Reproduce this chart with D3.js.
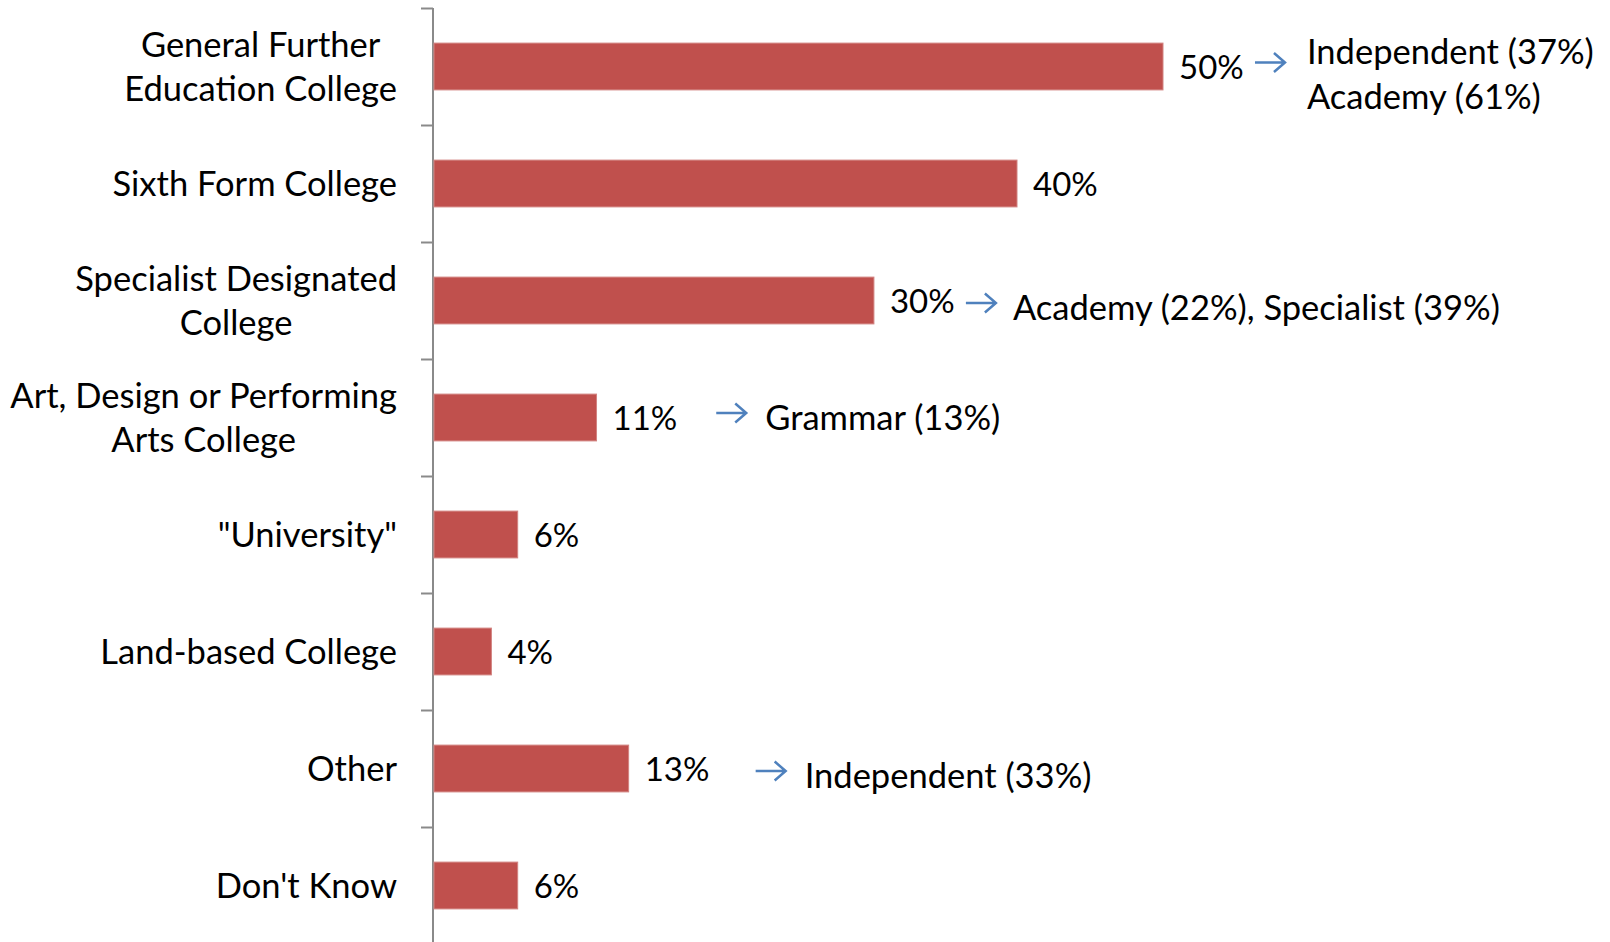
<!DOCTYPE html>
<html><head><meta charset="utf-8">
<script src="https://cdn.jsdelivr.net/npm/d3@7"></script>
<style>html,body{margin:0;padding:0;background:#fff;overflow:hidden}</style>
</head><body><svg id="c" width="1610" height="942"></svg>
<script>
// ---- data ----
const categories = [
  "General Further\nEducation College",
  "Sixth Form College",
  "Specialist Designated\nCollege",
  "Art, Design or Performing\nArts College",
  "\"University\"",
  "Land-based College",
  "Other",
  "Don't Know"
];
const values = [50, 40, 30.2, 11.2, 5.8, 4.0, 13.4, 5.8];
const valueLabels = ["50%", "40%", "30%", "11%", "6%", "4%", "13%", "6%"];
const notes = [
  "Independent (37%)\nAcademy (61%)",
  "",
  "Academy (22%), Specialist (39%)",
  "Grammar (13%)",
  "",
  "",
  "Independent (33%)",
  ""
];

// ---- layout (kept separate from data) ----
const W = 1610, H = 942;
const axisX = 433, plotTop = 8, step = 117;
const FONT = "Lato, 'Open Sans', sans-serif";
const FS = 34.5, FSV = 33;
const noteLayout = { // arrow start (in % units), arrow dy, text dx/dy
  0: {at: 56.3, ady: -4, tdx: 52, tdy: 7.5},
  2: {at: 36.5, ady: 2.5, tdx: 47, tdy: 7.5},
  3: {at: 19.4, ady: -4.5, tdx: 49, tdy: 0.5},
  6: {at: 22.1, ady: 2.5, tdx: 49, tdy: 7.5}
};

const svg = d3.select("#c");
const idx = d3.range(categories.length);

const x = d3.scaleLinear().domain([0, 60]).range([axisX, axisX + 14.6 * 60]);
const y = d3.scaleBand().domain(idx).range([plotTop, plotTop + step * categories.length])
  .paddingInner(0.6).paddingOuter(0.3);
const yb = d3.scaleLinear().domain([0, categories.length]).range([plotTop, plotTop + step * categories.length]);

// axis with ticks between categories
const ax = svg.append("g").attr("transform", `translate(${axisX},0)`)
  .call(d3.axisLeft(yb).tickValues(d3.range(categories.length + 1)).tickSize(12).tickFormat(""));
ax.select(".domain").remove();
ax.selectAll(".tick line").attr("stroke", "#8a8a8a").attr("stroke-width", 2);
svg.append("line").attr("x1", axisX).attr("x2", axisX).attr("y1", plotTop).attr("y2", H)
  .attr("stroke", "#8a8a8a").attr("stroke-width", 2);

// bars
svg.append("g").selectAll("rect").data(idx).join("rect")
  .attr("x", x(0) + 1)
  .attr("y", d => y(d))
  .attr("width", d => x(values[d]) - x(0) - 1)
  .attr("height", y.bandwidth())
  .attr("fill", "#C0504D")
  .attr("stroke", "#d28381").attr("stroke-width", 1);

const cy = d => y(d) + y.bandwidth() / 2;
const capOff = FS * 0.36;

// value labels
svg.append("g").selectAll("text").data(idx).join("text")
  .attr("x", d => x(values[d]) + 16)
  .attr("y", d => cy(d) + 1 + FSV * 0.36)
  .attr("font-family", FONT).attr("font-size", FSV).attr("fill", "#000")
  .text(d => valueLabels[d]);

// category labels: block right-aligned, lines centred inside block
const labelRight = 397, lineGap = 44.5;
idx.forEach(i => {
  const lines = categories[i].split("\n");
  const g = svg.append("g");
  const ts = lines.map((l, k) => g.append("text")
    .attr("font-family", FONT).attr("font-size", FS).attr("fill", "#000")
    .attr("text-anchor", "middle")
    .attr("y", cy(i) + (k - (lines.length - 1) / 2) * lineGap + capOff)
    .text(l));
  const maxW = d3.max(ts, t => t.node().getComputedTextLength());
  ts.forEach(t => t.attr("x", labelRight - maxW / 2));
});

// notes with arrows
idx.forEach(i => {
  if (!notes[i]) return;
  const L = noteLayout[i];
  const x0 = x(L.at), ay = cy(i) + L.ady, x1 = x0 + 30;
  svg.append("path")
    .attr("d", `M${x0},${ay}H${x1}M${x1 - 11},${ay - 9.5}L${x1},${ay}L${x1 - 11},${ay + 9.5}`)
    .attr("fill", "none").attr("stroke", "#4F81BD").attr("stroke-width", 2.5);
  const lines = notes[i].split("\n");
  lines.forEach((l, k) => svg.append("text")
    .attr("x", x0 + L.tdx)
    .attr("y", cy(i) + L.tdy + (k - (lines.length - 1) / 2) * lineGap + capOff)
    .attr("font-family", FONT).attr("font-size", FS).attr("fill", "#000")
    .text(l));
});
</script>
</body></html>
